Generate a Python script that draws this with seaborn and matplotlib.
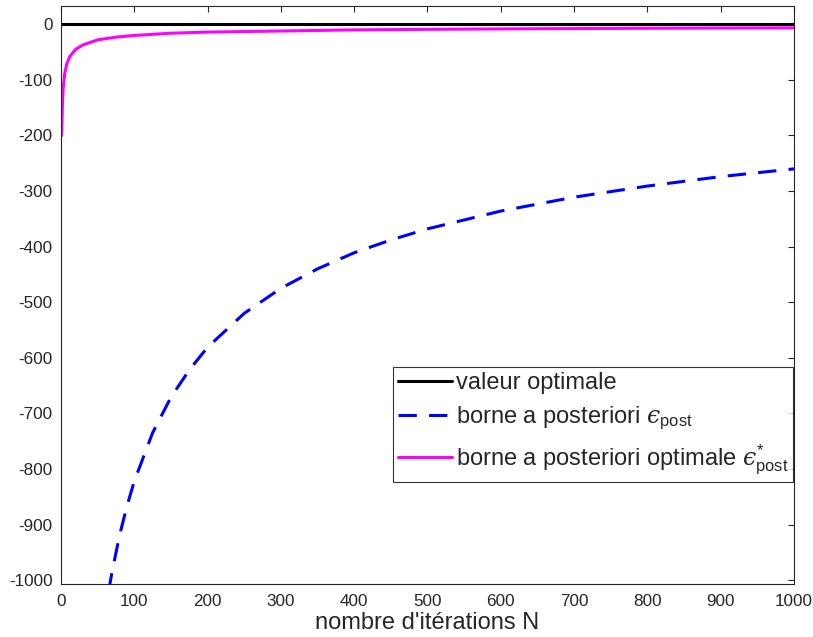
import numpy as np
import pandas as pd
import matplotlib
matplotlib.use("Agg")
import matplotlib.pyplot as plt
import seaborn as sns

# values
n_opt = [0, 1000]
v_opt = [0, 0]

n_star = [1, 2, 3, 5, 8, 12, 20, 30, 50, 75, 100, 150, 200, 300, 400, 500, 600, 700, 800, 900, 1000]
v_star = [-200, -141, -115, -89, -71, -58, -45, -37, -28, -23, -20, -16, -14, -12, -10,
          -9, -8.2, -7.6, -7.1, -6.7, -6.3]

n_post = [65, 70, 80, 90, 100, 125, 150, 175, 200, 250, 300, 350, 400, 450, 500,
          600, 700, 800, 900, 1000]
v_post = [-1020, -983, -919, -867, -822, -735, -671, -622, -581, -520, -475, -440,
          -411, -388, -368, -336, -311, -291, -274, -260]

labels = ["valeur optimale",
          "borne a posteriori $\u03f5_{\\mathrm{post}}$",
          "borne a posteriori optimale $\u03f5^{*}_{\\mathrm{post}}$"]

sns.set_style("white")
plt.rcParams["font.family"] = ["Liberation Sans", "DejaVu Sans"]
plt.rcParams["mathtext.fontset"] = "custom"
plt.rcParams["mathtext.rm"] = "Liberation Sans"
plt.rcParams["mathtext.it"] = "DejaVu Serif:italic"
plt.rcParams["axes.unicode_minus"] = False

fig = plt.figure(figsize=(8.13, 6.37), dpi=100)
ax = fig.add_axes([0.075, 0.0832, 0.9016, 0.9074])

sns.lineplot(x=n_opt, y=v_opt, color="black", linewidth=2.2, ax=ax, label=labels[0])
sns.lineplot(x=n_post, y=v_post, color="#0000ff", linewidth=2.2, ax=ax, label=labels[1])
ax.lines[-1].set_dashes([6, 4])
sns.lineplot(x=n_star, y=v_star, color="#ff00ff", linewidth=2.2, ax=ax, label=labels[2])

ax.set_xlim(0, 1000)
ax.set_ylim(-1007, 33)
ax.set_xticks(np.arange(0, 1001, 100))
ax.set_yticks(np.arange(-1000, 1, 100))
ax.tick_params(direction="in", length=4, width=0.8, top=True, right=True,
               labelsize=12.3, colors="#262626", pad=6)
ax.tick_params(axis="x", pad=7.5)
for s in ax.spines.values():
    s.set_color("#262626")
    s.set_linewidth(0.8)
ax.set_xlabel("nombre d'itérations N", fontsize=17, color="#262626", labelpad=2)
ax.set_ylabel("")

leg = ax.legend(loc="upper right", bbox_to_anchor=(0.9986, 0.375), borderaxespad=0,
                fontsize=17, frameon=True, fancybox=False, edgecolor="black",
                handlelength=2.3, handletextpad=0.15, borderpad=0.2, labelspacing=0.45)
leg.get_frame().set_linewidth(0.8)

fig.savefig("out.png", dpi=100)
